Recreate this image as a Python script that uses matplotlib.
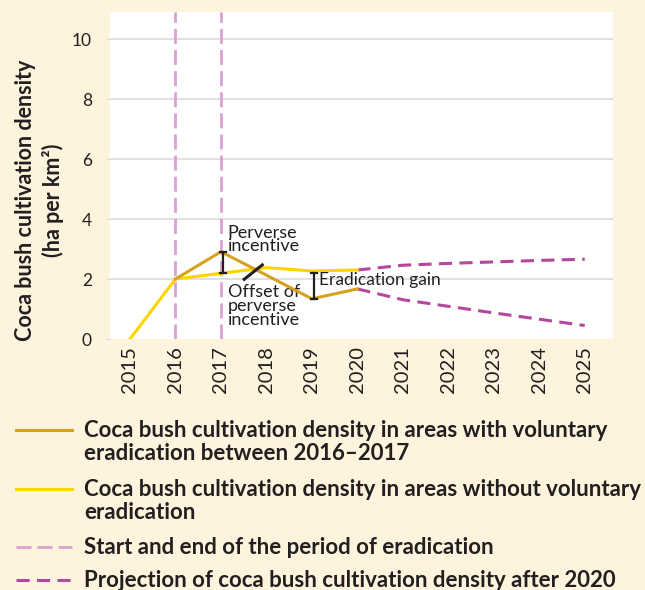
import numpy as np
import matplotlib
matplotlib.use("Agg")
import matplotlib.pyplot as plt
from matplotlib.lines import Line2D

plt.rcParams['font.family'] = ['Lato', 'DejaVu Sans']

# data
years = [2015, 2016, 2017, 2018, 2019, 2020]
with_erad = [np.nan, 2.0, 2.91, 2.13, 1.34, 1.67]
without_erad = [0.0, 2.0, 2.19, 2.38, 2.27, 2.30]
proj_years = [2020, 2021, 2022, 2023, 2024, 2025]
proj_without = [2.30, 2.46, 2.52, 2.57, 2.62, 2.66]
proj_with = [1.67, 1.31, 1.09, 0.87, 0.66, 0.45]
erad_period = [2016, 2017]
all_years = list(range(2015, 2026))

bg = '#FEF3DC'
txt = '#231F20'
c_gold = '#D6A21E'
c_yellow = '#FFD400'
c_pink = '#DBA1D3'
c_mag = '#B5489E'
pink_dash = (5.4, 2.2)
mag_dash = (4.3, 2.4)

fig = plt.figure(figsize=(6.45, 5.9), dpi=100, facecolor=bg)
ax = fig.add_axes([0.1705, 0.4254, 0.7798, 0.5542])
ax.set_facecolor('white')

for y in [2, 4, 6, 8, 10]:
    ax.axhline(y, color='#DADADA', lw=1.2, zorder=0)

for x in erad_period:
    ax.axvline(x, color=c_pink, lw=2, dashes=pink_dash, zorder=1)

ax.plot(proj_years, proj_without, color=c_mag, lw=2.2, dashes=mag_dash, zorder=2)
ax.plot(proj_years, proj_with, color=c_mag, lw=2.2, dashes=mag_dash, zorder=2)
ax.plot(years, without_erad, color=c_yellow, lw=2.2, zorder=3)
ax.plot(years, with_erad, color=c_gold, lw=2.2, zorder=4)

# brackets
def bracket(x, y0, y1):
    ax.plot([x, x], [y0, y1], color=txt, lw=1.6, zorder=5)
    for y in (y0, y1):
        ax.plot([x - 0.07, x + 0.07], [y, y], color=txt, lw=1.6, zorder=5)

bracket(2017.05, 2.19, 2.91)
bracket(2019.05, 1.34, 2.21)
ax.plot([2017.51, 2017.91], [1.99, 2.47], color=txt, lw=2.2, zorder=5)

ax.text(2017.15, 3.8, 'Perverse\nincentive', fontsize=13, color=txt,
        va='top', ha='left', linespacing=0.8)
ax.text(2017.15, 1.85, 'Offset of\nperverse\nincentive', fontsize=13, color=txt,
        va='top', ha='left', linespacing=0.85)
ax.text(2019.15, 1.97, 'Eradication gain', fontsize=12.5, color=txt,
        va='center', ha='left')

ax.set_xlim(2014.56, 2025.62)
ax.set_ylim(0, 10.9)
ax.set_xticks(all_years)
ax.set_xticklabels([str(y) for y in all_years], rotation=90)
ax.set_yticks([0, 2, 4, 6, 8, 10])
ax.tick_params(axis='x', length=0, labelsize=14.5, labelcolor=txt, pad=5)
ax.tick_params(axis='y', length=3, color='#DADADA', labelsize=12.5,
               labelcolor=txt, pad=10)
for s in ax.spines.values():
    s.set_visible(False)

ax.set_ylabel('Coca bush cultivation density\n(ha per km²)', fontsize=15.5,
              fontweight='bold', color=txt, linespacing=1.3)
ax.yaxis.set_label_coords(-0.092, 0.425)

# legend drawn by hand so each handle sits on its first text line
leg_labels = [
    'Coca bush cultivation density in areas with voluntary\neradication between 2016\u20132017',
    'Coca bush cultivation density in areas without voluntary\neradication',
    'Start and end of the period of eradication',
    'Projection of coca bush cultivation density after 2020',
]
leg_styles = [
    dict(color=c_gold, lw=2.2),
    dict(color=c_yellow, lw=2.2),
    dict(color=c_pink, lw=2, dashes=pink_dash),
    dict(color=c_mag, lw=2.2, dashes=mag_dash),
]
leg_rows = [430, 489, 547, 580]
W, H = 645, 590
for lab, st, py in zip(leg_labels, leg_styles, leg_rows):
    yf = 1 - py / H
    fig.add_artist(Line2D([16 / W, 72 / W], [yf, yf], transform=fig.transFigure, **st))
    fig.text(84 / W, 1 - (py - 10) / H, lab, fontsize=16, fontweight='bold',
             color=txt, va='top', ha='left', linespacing=1.1)

fig.savefig('out.png', dpi=100, facecolor=bg)
